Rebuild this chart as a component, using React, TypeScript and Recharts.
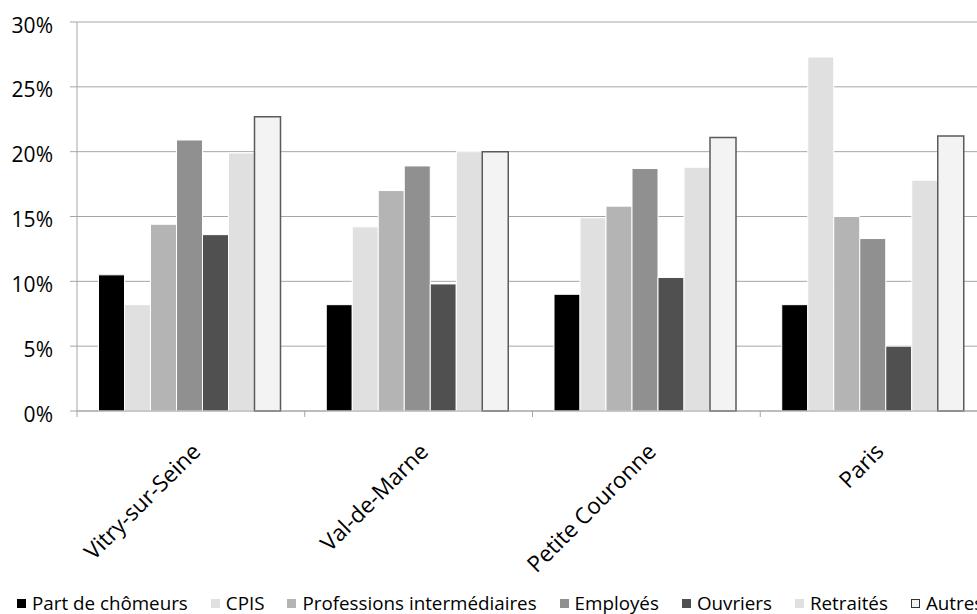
import React from 'react';
import { BarChart, Bar, XAxis, YAxis, CartesianGrid, Legend } from 'recharts';

const categories = ['Vitry-sur-Seine', 'Val-de-Marne', 'Petite Couronne', 'Paris'];
const chomeurs = [10.5, 8.2, 9.0, 8.2];
const cpis = [8.2, 14.2, 14.9, 27.3];
const profInter = [14.4, 17.0, 15.8, 15.0];
const employes = [20.9, 18.9, 18.7, 13.3];
const ouvriers = [13.6, 9.8, 10.3, 5.0];
const retraites = [19.9, 20.0, 18.8, 17.8];
const autres = [22.7, 20.0, 21.1, 21.2];
const yTicks = [0, 5, 10, 15, 20, 25, 30];

const series = [
  { key: 'chomeurs', name: 'Part de chômeurs', values: chomeurs, fill: '#000000', stroke: '#ffffff', sw: 1 },
  { key: 'cpis', name: 'CPIS', values: cpis, fill: '#e0e0e0', stroke: '#ffffff', sw: 1 },
  { key: 'profInter', name: 'Professions intermédiaires', values: profInter, fill: '#b4b4b4', stroke: '#ffffff', sw: 1 },
  { key: 'employes', name: 'Employés', values: employes, fill: '#909090', stroke: '#ffffff', sw: 1 },
  { key: 'ouvriers', name: 'Ouvriers', values: ouvriers, fill: '#505050', stroke: '#ffffff', sw: 1 },
  { key: 'retraites', name: 'Retraités', values: retraites, fill: '#e0e0e0', stroke: '#ffffff', sw: 1 },
  { key: 'autres', name: 'Autres', values: autres, fill: '#f3f3f3', stroke: '#5a5a5a', sw: 1.5 },
];

const data = categories.map((c, i) => {
  const row: any = { name: c };
  series.forEach((s) => { row[s.key] = s.values[i]; });
  return row;
});

const FONT = '"Open Sans", sans-serif';
const GRID = '#a6a6a6';

const XTick = (props: any) => {
  const { x, y, payload, index } = props;
  const half = payload && payload.offset ? payload.offset : 113.9;
  return (
    <g>
      <line x1={x - half} x2={x - half} y1={y} y2={y + 6} stroke={GRID} strokeWidth={1} />
      {index === categories.length - 1 && (
        <line x1={x + half} x2={x + half} y1={y} y2={y + 6} stroke={GRID} strokeWidth={1} />
      )}
      <g transform={`translate(${x + 11},${y + 42})`}>
        <text x={0} y={0} textAnchor="end" transform="rotate(-45)" fill="#000" fontFamily={FONT} fontSize={22.5}>
          {payload.value}
        </text>
      </g>
    </g>
  );
};

const YTick = (props: any) => {
  const { x, y, payload } = props;
  return (
    <text x={x} y={y} dy={10.5} textAnchor="end" fill="#000" fontFamily={FONT} fontSize={21}>
      {payload.value}%
    </text>
  );
};

const renderLegend = () => (
  <div style={{ display: 'flex', alignItems: 'center', whiteSpace: 'nowrap', fontFamily: FONT, fontSize: 18.8, color: '#000', height: 26, paddingLeft: 17, transform: 'translateY(2px)' }}>
    {series.map((s) => (
      <div key={s.key} style={{ display: 'flex', alignItems: 'center', marginRight: 23 }}>
        <span style={{ display: 'inline-block', boxSizing: 'border-box', width: 9, height: 9, background: s.fill, border: s.key === 'autres' ? '1.5px solid #333' : 'none', marginRight: 6 }} />
        <span>{s.name}</span>
      </div>
    ))}
  </div>
);

export default function App() {
  return (
    <div style={{ position: 'absolute', left: 0, top: 0, width: 977, height: 614, overflow: 'hidden', background: '#fff' }}>
      <BarChart
        width={1000}
        height={614}
        data={data}
        margin={{ top: 22, right: 12, left: 0, bottom: 0 }}
        barCategoryGap={21.5}
        barGap={0}
      >
        <CartesianGrid vertical={false} stroke={GRID} strokeWidth={1} />
        <XAxis
          dataKey="name"
          height={177}
          interval={0}
          tickLine={false}
          tickSize={0}
          tickMargin={0}
          axisLine={{ stroke: GRID, strokeWidth: 1 }}
          tick={<XTick />}
        />
        <YAxis
          width={77}
          domain={[0, 30]}
          ticks={yTicks}
          interval={0}
          tickSize={7}
          tickMargin={17}
          tickLine={{ stroke: GRID }}
          axisLine={{ stroke: GRID, strokeWidth: 1 }}
          tick={<YTick />}
        />
        <Legend verticalAlign="bottom" align="left" content={renderLegend} wrapperStyle={{ left: 0, width: 1100 }} />
        {series.map((s) => (
          <Bar key={s.key} dataKey={s.key} name={s.name} fill={s.fill} stroke={s.stroke} strokeWidth={s.sw} isAnimationActive={false} />
        ))}
      </BarChart>
    </div>
  );
}
